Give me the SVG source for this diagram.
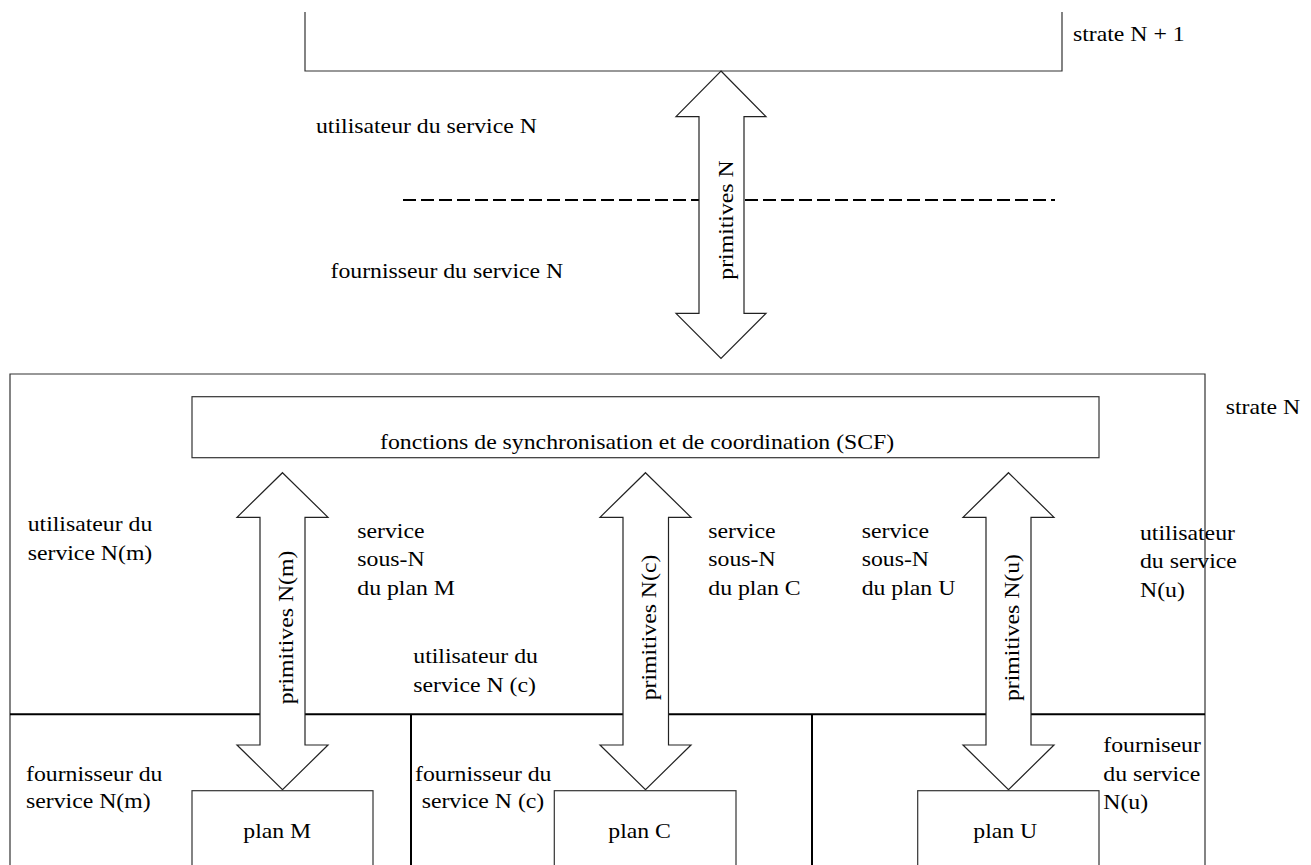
<svg xmlns="http://www.w3.org/2000/svg" width="1311" height="865" viewBox="0 0 1311 865">
<style>
.ln{fill:none;stroke:#333;stroke-width:1.2}
.div{fill:none;stroke:#000;stroke-width:2}
.dash{fill:none;stroke:#000;stroke-width:2;stroke-dasharray:13 5}
.box{fill:#fff;stroke:#333;stroke-width:1.2}
.arr{fill:#fff;stroke:#222;stroke-width:1.2;stroke-linejoin:miter}
text{font-family:"Liberation Serif","Times New Roman",serif;font-size:22px;fill:#000}
.mid{text-anchor:middle}
</style>
<rect width="1311" height="865" fill="#fff"/>
<g id="strate-n1">
<path class="ln" d="M305 12 V71 H1062 V12"/>
<text transform="translate(1073 41) scale(1.08 1)">strate N + 1</text>
</g>
<g id="frontiere">
<line class="dash" x1="403" y1="200" x2="1055" y2="200"/>
<text transform="translate(316 133) scale(1.08 1)">utilisateur du service N</text>
<text transform="translate(330.5 278.3) scale(1.08 1)">fournisseur du service N</text>
</g>
<g id="strate-n">
<path class="ln" d="M10 870 V374 H1205 V870"/>
<text transform="translate(1225.7 414) scale(1.08 1)">strate N</text>
<line class="div" x1="10" y1="714.3" x2="1205" y2="714.3"/>
<line class="div" x1="411" y1="714.3" x2="411" y2="870"/>
<line class="div" x1="812" y1="714.3" x2="812" y2="870"/>
<text transform="translate(27.7 531) scale(1.08 1)">utilisateur du<tspan x="0" dy="29">service N(m)</tspan></text>
<text transform="translate(357.3 538) scale(1.08 1)">service<tspan x="0" dy="28.5">sous-N</tspan><tspan x="0" dy="28.5">du plan M</tspan></text>
<text transform="translate(708.3 538) scale(1.08 1)">service<tspan x="0" dy="28.5">sous-N</tspan><tspan x="0" dy="28.5">du plan C</tspan></text>
<text transform="translate(861.7 538) scale(1.08 1)">service<tspan x="0" dy="28.5">sous-N</tspan><tspan x="0" dy="28.5">du plan U</tspan></text>
<text transform="translate(1140 540) scale(1.08 1)">utilisateur<tspan x="0" dy="28.3">du service</tspan><tspan x="0" dy="28.4">N(u)</tspan></text>
<text transform="translate(413.3 663.3) scale(1.08 1)">utilisateur du<tspan x="0" dy="28.4">service N (c)</tspan></text>
<text transform="translate(26 780.7) scale(1.08 1)">fournisseur du<tspan x="0" dy="27.6">service N(m)</tspan></text>
<text transform="translate(415 780.7) scale(1.08 1)">fournisseur du<tspan x="6.2" dy="27.4">service N (c)</tspan></text>
<text transform="translate(1103.3 752.3) scale(1.08 1)">fourniseur<tspan x="0" dy="28.4">du service</tspan><tspan x="0" dy="28.6">N(u)</tspan></text>
</g>
<g id="connecteurs">
<polygon class="arr" points="721,71 766,116.7 744,116.7 744,313.3 766,313.3 721,358.3 676,313.3 699,313.3 699,116.7 676,116.7"/>
<polygon class="arr" points="282.5,472.7 328,517.3 305,517.3 305,745 328,745 282.5,789.7 237,745 260,745 260,517.3 237,517.3"/>
<polygon class="arr" points="645.5,472.7 691,517.3 668.5,517.3 668.5,745 691,745 645.5,789.7 600,745 623,745 623,517.3 600,517.3"/>
<polygon class="arr" points="1008.5,472.7 1054,517.3 1031,517.3 1031,745 1054,745 1008.5,789.7 963,745 986,745 986,517.3 963,517.3"/>
<text class="mid" transform="translate(732.5 220) rotate(-90) scale(1.08 1)">primitives N</text>
<text class="mid" transform="translate(293 627.5) rotate(-90) scale(1.08 1)">primitives N(m)</text>
<text class="mid" transform="translate(656 627.5) rotate(-90) scale(1.08 1)">primitives N(c)</text>
<text class="mid" transform="translate(1019 627.5) rotate(-90) scale(1.08 1)">primitives N(u)</text>
</g>
<g id="scf">
<rect class="box" x="192" y="396.7" width="907" height="61"/>
<text transform="translate(380 449) scale(1.08 1)">fonctions de synchronisation et de coordination (SCF)</text>
</g>
<g id="plan-m">
<rect class="box" x="192" y="790.7" width="181" height="90"/>
<text transform="translate(243.3 837.7) scale(1.08 1)">plan M</text>
</g>
<g id="plan-c">
<rect class="box" x="554.3" y="790.7" width="181.7" height="90"/>
<text transform="translate(608.3 837.7) scale(1.08 1)">plan C</text>
</g>
<g id="plan-u">
<rect class="box" x="917.7" y="790.7" width="181.3" height="90"/>
<text transform="translate(973.3 837.5) scale(1.08 1)">plan U</text>
</g>
</svg>
